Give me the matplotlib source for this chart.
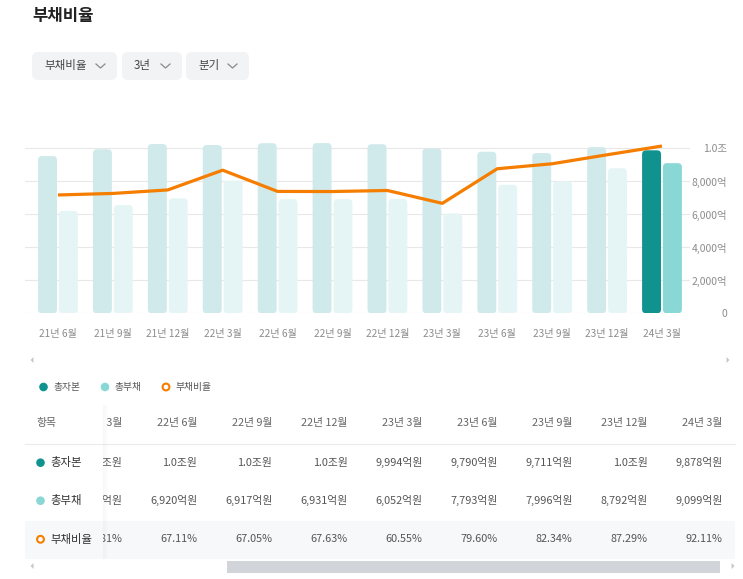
import matplotlib
matplotlib.use("Agg")
import matplotlib.pyplot as plt
import numpy as np
from matplotlib.patches import FancyBboxPatch, Rectangle, Circle, Polygon
from matplotlib.lines import Line2D

plt.rcParams['font.family'] = ['Noto Sans CJK KR', 'DejaVu Sans']

# ---------------- data ----------------
periods = ['21년 6월', '21년 9월', '21년 12월', '22년 3월', '22년 6월', '22년 9월',
           '22년 12월', '23년 3월', '23년 6월', '23년 9월', '23년 12월', '24년 3월']
total_capital = [9530, 9940, 10260, 10200, 10311, 10316, 10248, 9994, 9790, 9711, 10072, 9878]  # 억원
total_debt = [6210, 6560, 6970, 8040, 6920, 6917, 6931, 6052, 7793, 7996, 8792, 9099]          # 억원
debt_ratio = [65.16, 66.00, 67.93, 78.81, 67.11, 67.05, 67.63, 60.55, 79.60, 82.34, 87.29, 92.11]  # %
y_ticks = [0, 2000, 4000, 6000, 8000, 10000]
y_tick_labels = ['0', '2,000억', '4,000억', '6,000억', '8,000억', '1.0조']
legend_labels = ['총자본', '총부채', '부채비율']
dropdowns = ['부채비율', '3년', '분기']
title = '부채비율'
table_header = '항목'
table_start = 3  # first (partially hidden) table column

# ---------------- style ----------------
C_CAP_LIGHT = '#d0eaeb'
C_DEBT_LIGHT = '#e5f5f5'
C_CAP = '#10938f'
C_DEBT = '#89d8d6'
C_LINE = '#f57d00'
GRID = '#e8e8e8'
TXT_GRAY = '#8c8c8c'

W, H = 743, 579
fig = plt.figure(figsize=(W / 100, H / 100), dpi=100)

# overlay axes in pixel coordinates for page decoration
ov = fig.add_axes([0, 0, 1, 1], zorder=0)
ov.set_xlim(0, W)
ov.set_ylim(H, 0)
ov.axis('off')

# title
ov.text(32, 16, title, fontsize=12, fontweight='bold', color='#222222', va='center', ha='left')

# dropdown buttons
btns = [(32, 117, 44), (122, 182, 134), (186, 249, 198)]
for (x0, x1, tx), lab in zip(btns, dropdowns):
    ov.add_patch(FancyBboxPatch((x0, 52), x1 - x0, 28, boxstyle='round,pad=0,rounding_size=6',
                                fc='#f1f3f5', ec='none'))
    ov.text(tx, 66, lab, fontsize=8.3, color='#454545', va='center', ha='left')
    cx = x1 - 16.5
    ov.add_line(Line2D([cx - 4.5, cx, cx + 4.5], [64, 68, 64], color='#8a8a8a', lw=0.9))

# ---------------- chart ----------------
ax_left, ax_right, ax_top, ax_bot = 25, 690, 120, 313.3
ax = fig.add_axes([ax_left / W, 1 - ax_bot / H, (ax_right - ax_left) / W, (ax_bot - ax_top) / H], zorder=2)
ax.patch.set_alpha(0)
ax2 = ax.twinx()
x = np.arange(len(periods))
xlim = (-0.6, 11.51)
ymax = (ax_bot - ax_top) / 16.5 * 1000
ax.set_xlim(*xlim)
ax.set_ylim(0, ymax)

px_per_x = (ax_right - ax_left) / (xlim[1] - xlim[0])
px_per_y = (ax_bot - ax_top) / ymax
asp = px_per_x / px_per_y
rad = 4.0 / px_per_x

off, bw = 0.19, 0.345
n = len(periods)
cap_colors = [C_CAP_LIGHT] * (n - 1) + [C_CAP]
debt_colors = [C_DEBT_LIGHT] * (n - 1) + [C_DEBT]
b1 = ax.bar(x - off, total_capital, width=bw)
b2 = ax.bar(x + off, total_debt, width=bw)
for bars, cols in ((b1, cap_colors), (b2, debt_colors)):
    for p, c in zip(bars, cols):
        p.set_visible(False)
        ax.add_patch(FancyBboxPatch((p.get_x(), p.get_y()), p.get_width(), p.get_height(),
                                    boxstyle=f'round,pad=0,rounding_size={rad}',
                                    mutation_aspect=asp, fc=c, ec='none', zorder=2))

ax.set_yticks(y_ticks, labels=y_tick_labels)
ax.yaxis.tick_right()
ax.tick_params(axis='y', length=0, pad=(727 - ax_right) * 0.72, labelsize=7.5, labelcolor=TXT_GRAY)
for t in ax.get_yticklabels():
    t.set_horizontalalignment('right')
ax.set_xticks(x, labels=periods)
ax.tick_params(axis='x', length=0, pad=11.5, labelsize=7.3, labelcolor=TXT_GRAY)
ax.grid(axis='y', color=GRID, lw=0.8, zorder=0)
ax.set_axisbelow(True)
for s in ax.spines.values():
    s.set_visible(False)

ax2.set_ylim(0, (ax_bot - ax_top) / 1.816)
ax2.plot(x, debt_ratio, color=C_LINE, lw=2.3, solid_joinstyle='round', solid_capstyle='butt')
ax2.set_yticks([])
for s in ax2.spines.values():
    s.set_visible(False)

# chart scroll arrows
ov.add_patch(Polygon([[33.5, 357], [33.5, 363], [30.5, 360]], closed=True, fc='#c8c8c8', ec='none'))
ov.add_patch(Polygon([[726.5, 357], [726.5, 363], [729.5, 360]], closed=True, fc='#c8c8c8', ec='none'))

# legend
leg_items = [(43.5, C_CAP, True), (105, C_DEBT, True), (166, C_LINE, False)]
for (lx, col, filled), lab in zip(leg_items, legend_labels):
    if filled:
        ov.add_patch(Circle((lx, 387), 4.3, fc=col, ec='none'))
    else:
        ov.add_patch(Circle((lx, 387), 3.4, fc='white', ec=col, lw=1.5))
    ov.text(lx + 9.5, 387, lab, fontsize=7.0, color='#555555', va='center', ha='left')

# ---------------- table ----------------
def fmt_money(v):
    if v >= 10000:
        return f'{v / 10000:.1f}조원'
    return f'{v:,}억원'

row_y = [462.7, 500.7, 539.3]
head_y = 423
# 3rd row background
ov.add_patch(Rectangle((25, 520.5), 710, 38.5, fc='#f7f8fa', ec='none', zorder=1))
ov.add_line(Line2D([25, 735], [444.3, 444.3], color='#ebebeb', lw=0.8, zorder=1))

clip = Rectangle((103, 400), 640, 170, transform=ov.transData, fc='none', ec='none')
col_right0 = 122.3
col_step = 75.05
for k, i in enumerate(range(table_start, n)):
    rx = col_right0 + k * col_step
    kw = dict(fontsize=7.8, color='#555555', ha='right', va='center', zorder=2)
    cells = [ov.text(rx, head_y, periods[i], **{**kw, 'color': '#666666'}),
             ov.text(rx, row_y[0], fmt_money(total_capital[i]), **kw),
             ov.text(rx, row_y[1], fmt_money(total_debt[i]), **kw),
             ov.text(rx, row_y[2], f'{debt_ratio[i]:.2f}%', **kw)]
    for c in cells:
        c.set_clip_path(clip)

# frozen first column covering the scrolled part
ov.add_patch(Rectangle((0, 400), 103, 120.5, fc='white', ec='none', zorder=3))
ov.add_patch(Rectangle((0, 520.5), 25, 40, fc='white', ec='none', zorder=3))
ov.add_patch(Rectangle((25, 520.5), 78, 38.5, fc='#f7f8fa', ec='none', zorder=3))
ov.add_line(Line2D([25, 103], [444.3, 444.3], color='#ebebeb', lw=0.8, zorder=3.5))
for j, a in enumerate(np.linspace(0.10, 0.0, 6)):
    ov.add_patch(Rectangle((103 + j, 405), 1, 154, fc='#b0b4ba', alpha=a, ec='none', zorder=3))

ov.text(36, head_y, table_header, fontsize=7.8, color='#666666', ha='left', va='center', zorder=4)
ov.add_patch(Circle((40.5, row_y[0]), 4.3, fc=C_CAP, ec='none', zorder=4))
ov.add_patch(Circle((40.5, row_y[1]), 4.3, fc=C_DEBT, ec='none', zorder=4))
ov.add_patch(Circle((40.5, row_y[2]), 3.4, fc='white', ec=C_LINE, lw=1.5, zorder=4))
for yy, lab in zip(row_y, legend_labels):
    ov.text(50, yy, lab, fontsize=8.2, color='#333333', ha='left', va='center', zorder=4)

# table scrollbar
ov.add_patch(Rectangle((226.7, 561), 493.3, 11.5, fc='#d1d5d9', ec='none', zorder=4))
ov.add_patch(Polygon([[33.5, 563], [33.5, 569], [30.5, 566]], closed=True, fc='#c8c8c8', ec='none', zorder=4))
ov.add_patch(Polygon([[731.5, 563], [731.5, 569], [734.5, 566]], closed=True, fc='#c8c8c8', ec='none', zorder=4))

fig.savefig('out.png', dpi=100)
